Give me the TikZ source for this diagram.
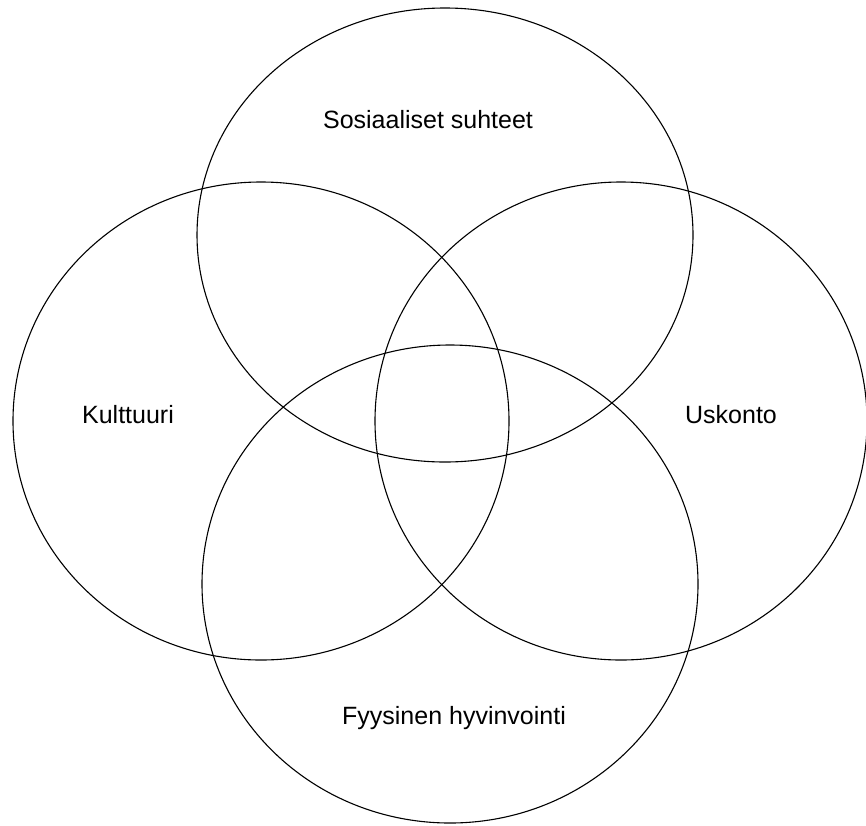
\documentclass[tikz,border=0pt]{standalone}
\usepackage{fontspec}
\setmainfont{Liberation Sans}
\begin{document}
\begin{tikzpicture}[x=1pt,y=-1pt,
  ring/.style={draw=black,line width=1.1pt},
  lbl/.style={font=\fontsize{25}{30}\selectfont,inner sep=0pt}]
\useasboundingbox (0,0) rectangle (866,825);
\draw[ring] (445,235) ellipse [x radius=248, y radius=227];
\draw[ring] (261,421) ellipse [x radius=248, y radius=239];
\draw[ring] (621,421) ellipse [x radius=246, y radius=239];
\draw[ring] (450,584) ellipse [x radius=248, y radius=239];
\node[lbl] (s) at (428,120) {Sosiaaliset suhteet};
\node[lbl] (k) at (128,415) {Kulttuuri};
\node[lbl] (u) at (731,415) {Uskonto};
\node[lbl] (f) at (454,718) {Fyysinen hyvinvointi};
\end{tikzpicture}
\end{document}
